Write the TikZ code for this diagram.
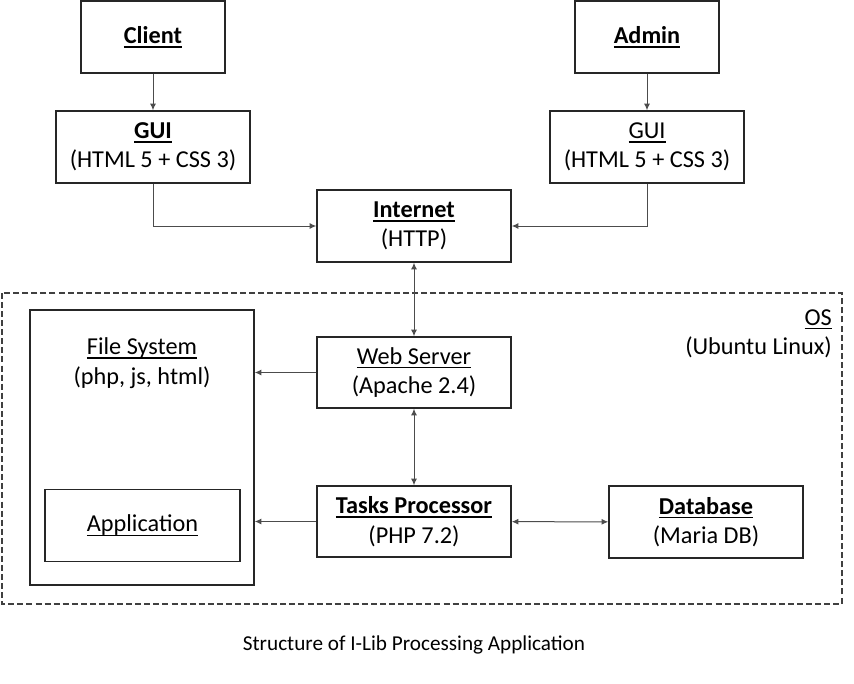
\documentclass[tikz,border=0pt]{standalone}
\usepackage{fontspec}
\setmainfont{Carlito}
\usetikzlibrary{arrows.meta}
\newcommand\ulx[1]{\setbox0\hbox{#1}\rlap{\vrule height -2pt depth 3pt width \wd0}\box0}
\begin{document}
\begin{tikzpicture}[x=0.75pt,y=-0.75pt,
  txt/.style={font=\fontsize{18.2}{22}\selectfont},
  box/.style={txt,draw=black!85,line width=1.1pt,minimum width=145.5pt,minimum height=54pt,align=center,inner sep=0pt},
  conn/.style={draw=black!70,line width=0.75pt,-{Latex[length=5pt,width=4.5pt]}},
  bconn/.style={draw=black!70,line width=0.75pt,{Latex[length=5pt,width=4.5pt]}-{Latex[length=5pt,width=4.5pt]}}]
\useasboundingbox (0,0) rectangle (854,683);
% OS dashed region
\draw[draw=black!75,line width=0.9pt,dash pattern=on 4.5pt off 2.3pt] (2,293) rectangle (842,604);
\node[txt,anchor=north east,align=right,inner sep=0pt] (os) at (832,309) {\ulx{OS}\\(Ubuntu Linux)};
% nodes
\node[box,minimum width=108pt] (client) at (153,37) {\ulx{\textbf{Client}}};
\node[box] (guil) at (153,147) {\ulx{\textbf{GUI}}\\(HTML 5 + CSS 3)};
\node[box,minimum width=108pt] (admin) at (647,37) {\ulx{\textbf{Admin}}};
\node[box] (guir) at (647,147) {\ulx{GUI}\\(HTML 5 + CSS 3)};
\node[box] (inet) at (414,226) {\ulx{\textbf{Internet}}\\(HTTP)};
\node[box,minimum height=53.25pt] (web) at (414,372.5) {\ulx{Web Server}\\(Apache 2.4)};
\node[box,minimum height=53.25pt] (tasks) at (414,521.5) {\ulx{\textbf{Tasks Processor}}\\(PHP 7.2)};
\node[box] (db) at (706,522) {\ulx{\textbf{Database}}\\(Maria DB)};
\node[box,minimum width=168pt,minimum height=206.25pt] (fs) at (142,447.5) {};
\node[txt,align=center,inner sep=0pt] (fslabel) at (142,363) {\ulx{File System}\\(php, js, html)};
\node[box,minimum width=146.25pt] (app) at (142.5,525.5) {\ulx{Application}};
% connectors
\draw[conn] (client) -- (guil);
\draw[conn] (admin) -- (guir);
\draw[conn] (guil.south) |- (inet.west);
\draw[conn] (guir.south) |- (inet.east);
\draw[bconn] (inet) -- (web);
\draw[bconn] (web) -- (tasks);
\draw[bconn] (tasks) -- (db);
\draw[conn] (web.west) -- (web.west -| fs.east);
\draw[conn] (tasks.west) -- (tasks.west -| fs.east);
% caption
\node[font=\fontsize{15.9}{18}\selectfont] (cap) at (414,645) {Structure of I-Lib Processing Application};
\end{tikzpicture}
\end{document}
